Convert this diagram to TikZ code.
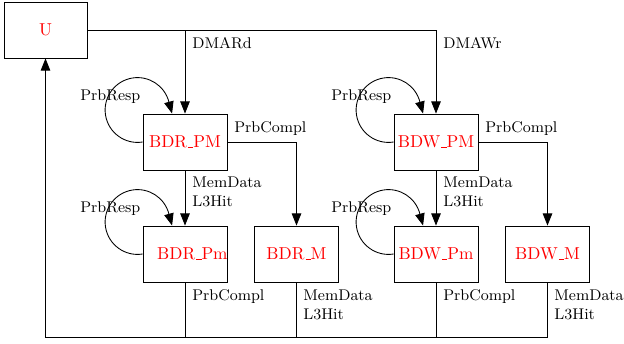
\documentclass[tikz,border=0pt]{standalone}
\usetikzlibrary{arrows.meta}
\newcommand{\usc}{\leavevmode\kern.06em\vbox{\hrule width.3em}}
\begin{document}
\begin{tikzpicture}[x=0.58pt,y=-0.58pt,
  box/.style={draw,line width=0.5pt,minimum width=48.7pt,minimum height=32.5pt,inner sep=0pt,text=red},
  lbl/.style={font=\small,anchor=west,inner sep=0pt,align=left},
  arr/.style={line width=0.5pt,-{Triangle[length=7pt,width=5.5pt]}},
  ln/.style={line width=0.5pt}]
\useasboundingbox (0,0) rectangle (624,343);
\node[box,minimum width=48.1pt] (U) at (45.5,30) {U};
\node[box] (bdrPM) at (185,142) {BDR\usc PM};
\node[box,label={[text=red,xshift=4.3pt]center:BDR\usc Pm}] (bdrPm) at (185,254) {};
\node[box] (bdrM) at (296.5,254) {BDR\usc M};
\node[box] (bdwPM) at (436,142) {BDW\usc PM};
\node[box] (bdwPm) at (436,254) {BDW\usc Pm};
\node[box] (bdwM) at (547.5,254) {BDW\usc M};
\coordinate (bot) at (0,337);
% top lines
\draw[arr] (U.east) -| (bdwPM.north);
\draw[arr] (bdrPM.north |- U.east) -- (bdrPM.north);
\node[lbl] (l1) at (192,43) {DMARd};
\node[lbl] (l2) at (443,43) {DMAWr};
% left group
\draw[arr] (bdrPM.west) arc[start angle=81,end angle=345,radius=32.4] -- ([xshift=-7.5pt]bdrPM.north);
\node[lbl] (l3) at (80,97) {PrbResp};
\draw[arr] (bdrPM.east) -| (bdrM.north);
\node[lbl] (l4) at (234,129) {PrbCompl};
\draw[arr] (bdrPM.south) -- (bdrPm.north);
\node[lbl] (l5) at (192,192) {MemData\\L3Hit};
\draw[arr] (bdrPm.west) arc[start angle=81,end angle=345,radius=32.4] -- ([xshift=-7.5pt]bdrPm.north);
\node[lbl] (l6) at (80,209) {PrbResp};
% right group
\draw[arr] (bdwPM.west) arc[start angle=81,end angle=345,radius=32.4] -- ([xshift=-7.5pt]bdwPM.north);
\node[lbl] (l7) at (331,97) {PrbResp};
\draw[arr] (bdwPM.east) -| (bdwM.north);
\node[lbl] (l8) at (485,129) {PrbCompl};
\draw[arr] (bdwPM.south) -- (bdwPm.north);
\node[lbl] (l9) at (443,192) {MemData\\L3Hit};
\draw[arr] (bdwPm.west) arc[start angle=81,end angle=345,radius=32.4] -- ([xshift=-7.5pt]bdwPm.north);
\node[lbl] (l10) at (331,209) {PrbResp};
% bottom
\draw[arr] (bdwM.south) -- (bdwM.south |- bot) -- (U.south |- bot) -- (U.south);
\draw[ln] (bdrPm.south) -- (bdrPm.south |- bot);
\draw[ln] (bdrM.south) -- (bdrM.south |- bot);
\draw[ln] (bdwPm.south) -- (bdwPm.south |- bot);
\node[lbl] (l11) at (192,297) {PrbCompl};
\node[lbl] (l12) at (303,305) {MemData\\L3Hit};
\node[lbl] (l13) at (443,297) {PrbCompl};
\node[lbl] (l14) at (554,305) {MemData\\L3Hit};
\end{tikzpicture}
\end{document}
